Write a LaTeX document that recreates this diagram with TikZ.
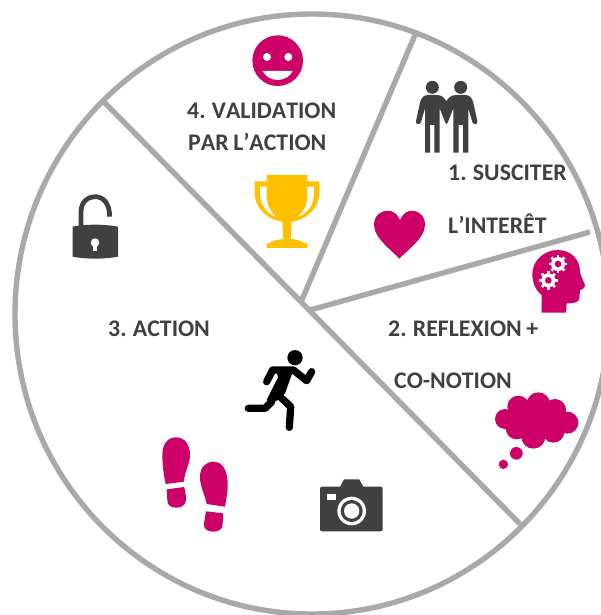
\documentclass[tikz,border=0pt]{standalone}
\usepackage{fontspec}
\setmainfont{Carlito}[Kerning=Off,WordSpace=0.85]
\definecolor{rim}{HTML}{A9A9A9}
\definecolor{ink}{HTML}{404040}
\definecolor{rose}{HTML}{CC0066}
\definecolor{gold}{HTML}{FFC000}
\tikzset{
  rimline/.style={draw=rim,line width=5.4pt},
  lbl/.style={anchor=base west,inner sep=0pt,text=ink,font=\fontsize{23.8}{28}\selectfont\bfseries},
  zoomA/.style={shift={(380,60)},x=0.33333pt,y=-0.33333pt},
  zoomB/.style={shift={(480,240)},x=0.33333pt,y=-0.33333pt},
  zoomC/.style={shift={(150,340)},x=0.33333pt,y=-0.33333pt},
  zoomD/.style={shift={(60,20)},x=0.33333pt,y=-0.33333pt},
}
\begin{document}
\begin{tikzpicture}[x=1pt,y=-1pt]
\useasboundingbox (0,0) rectangle (601,615);
\begin{scope}
\clip (0,0) rectangle (601,615);
\draw[rimline] (312,314) ellipse [x radius=297pt,y radius=300pt];
\end{scope}
% spokes
\coordinate (hubc) at (301,302);
\coordinate (hubd) at (310,310);
\coordinate (a) at (103,101);
\coordinate (b) at (520,524);
\coordinate (c) at (415,35);
\coordinate (d) at (590,232);
\draw[rimline] (a) -- (b);
\draw[rimline] (hubc) -- (c);
\draw[rimline] (hubd) -- (d);
% labels
\node[lbl] (t4a) at (187,118.5) {4. VALIDATION};
\node[lbl] (t4b) at (188,150.5) {PAR L’ACTION};
\node[lbl] (t1a) at (448,180.5) {1. SUSCITER};
\node[lbl] (t1b) at (448,233.5) {L’INTERÊT};
\node[lbl] (t2a) at (388,336.5) {2. REFLEXION +};
\node[lbl] (t2b) at (394,388.5) {CO-NOTION};
\node[lbl] (t3) at (108,336.5) {3. ACTION};
% people
\begin{scope}[zoomA]
\fill[ink] (157,82) circle [radius=19.5];
\fill[ink] (242,82) circle [radius=19.5];
\fill[ink] (108,183) -- (120,128) .. controls (124,112) and (132,105) .. (145,105) -- (170,105)
  .. controls (185,105) and (192,112) .. (199,124) .. controls (206,112) and (214,105) .. (230,105) -- (255,105)
  .. controls (268,105) and (276,112) .. (280,128) -- (292,183) .. controls (295,194) and (280,196) .. (277,186)
  -- (265,145) -- (265,278) -- (249,278) -- (249,195) -- (236,195) -- (236,278) -- (220,278) -- (220,145)
  -- (203,188) .. controls (201,193) and (198,193) .. (196,188) -- (179,145) -- (179,278) -- (163,278) -- (163,195)
  -- (150,195) -- (150,278) -- (135,278) -- (135,145) -- (123,186) .. controls (120,196) and (105,194) .. (108,183) -- cycle;
% heart
\fill[rose] (58,596) .. controls (40,575) and (-18,535) .. (-18,495) .. controls (-18,465) and (5,452) .. (22,452)
  .. controls (40,452) and (52,462) .. (60,480) .. controls (68,462) and (80,452) .. (97,452)
  .. controls (118,452) and (135,470) .. (135,495) .. controls (135,535) and (76,575) .. (58,596) -- cycle;
\end{scope}
% head with gears, cloud
\begin{scope}[zoomB]
\fill[rose] (185,218) -- (185,165) .. controls (165,150) and (157,125) .. (157,102)
  .. controls (157,60) and (195,30) .. (232,30) .. controls (275,30) and (300,60) .. (300,95)
  .. controls (301,110) and (315,128) .. (315,138) .. controls (315,146) and (305,148) .. (300,150)
  -- (298,175) .. controls (296,187) and (285,190) .. (260,190) -- (258,218) -- cycle;
\foreach \gx/\gy in {234/72,205/121}{
  \foreach \ang in {0,45,...,315}{
    \draw[white,line width=2.6pt] (\gx,\gy) -- ++(\ang:28);
  }
  \fill[white] (\gx,\gy) circle [radius=21];
  \fill[rose] (\gx,\gy) circle [radius=10];
}
\fill[rose] (75,537) circle [radius=30]
  (115,500) circle [radius=33]
  (175,492) circle [radius=35]
  (225,510) circle [radius=33]
  (262,548) circle [radius=33]
  (220,575) circle [radius=33]
  (160,590) circle [radius=36]
  (110,565) circle [radius=33]
  (109,640) circle [radius=19]
  (70,673) circle [radius=14];
\fill[rose] (175,540) ellipse [x radius=75,y radius=40];
\fill[rose] (95,510) -- (250,510) -- (240,590) -- (110,590) -- cycle;
\end{scope}
% runner, feet, camera
\begin{scope}[zoomC]
\fill[black] (435,53) circle [radius=23];
\draw[black,line width=7.3pt,line cap=round,line join=round]
  (350,125) -- (368,90) -- (430,90) -- (470,122) -- (485,95)
  (365,185) -- (345,205) -- (295,205)
  (385,165) -- (422,200) -- (418,262);
\fill[black] (372,85) -- (432,85) -- (405,160) -- (388,178) -- (362,190) -- (350,180) -- (385,110) -- cycle;
\fill[rose] (47,432) .. controls (40,400) and (37,370) .. (37,345) .. controls (37,310) and (55,292) .. (78,292)
  .. controls (105,292) and (120,315) .. (120,345) .. controls (120,370) and (104,395) .. (101,425) -- cycle;
\fill[rose] (50,448) -- (103,441) .. controls (105,460) and (109,465) .. (108,480) .. controls (106,497) and (92,503) .. (80,503)
  .. controls (60,503) and (52,495) .. (52,480) -- cycle;
\fill[rose] (170,492) .. controls (165,465) and (150,440) .. (150,410) .. controls (150,380) and (170,365) .. (190,365)
  .. controls (220,365) and (233,395) .. (233,435) .. controls (233,460) and (228,480) .. (225,500) -- cycle;
\fill[rose] (168,514) -- (219,520) -- (218,555) .. controls (217,568) and (205,575) .. (190,575)
  .. controls (170,575) and (160,565) .. (162,550) -- cycle;
\fill[ink,rounded corners=2pt] (510,440) rectangle (698,574);
\fill[ink] (568,445) -- (582,418) -- (628,418) -- (642,445) -- cycle;
\fill[white] (530,461) rectangle (558,479);
\fill[white] (605,513) circle [radius=43];
\fill[ink] (605,513) circle [radius=33];
\fill[white] (605,513) circle [radius=23];
\end{scope}
% lock, smiley, trophy
\begin{scope}[zoomD]
\draw[ink,line width=4.7pt] (63,625) -- (63,575) .. controls (63,545) and (85,530) .. (105,530)
  .. controls (130,530) and (149,550) .. (149,590);
\fill[ink] (38,620) .. controls (80,612) and (132,612) .. (174,620) -- (174,710) .. controls (132,718) and (80,718) .. (38,710) -- cycle;
\fill[white] (105,668) circle [radius=13];
\fill[white] (100,670) -- (110,670) -- (110,692) -- (100,692) -- cycle;
\fill[rose] (653,122) circle [radius=76];
\fill[white] (621,111) circle [radius=12] (685,111) circle [radius=12];
\fill[white] (608,153) -- (698,153) .. controls (690,170) and (672,180) .. (653,180) .. controls (634,180) and (616,170) .. (608,153) -- cycle;
% trophy
\fill[gold] (584,484) -- (620,484) -- (620,465) -- (742,465) -- (742,484) -- (778,484) -- (778,520)
  .. controls (776,575) and (725,603) .. (695,605) -- (692,657) -- (715,660) -- (742,672) -- (742,684) -- (620,684) -- (620,672)
  -- (647,660) -- (670,657) -- (667,605) .. controls (637,603) and (586,575) .. (584,520) -- cycle;
\fill[white] (600,500) -- (620,500) -- (620,535) .. controls (622,560) and (632,575) .. (648,590) .. controls (620,580) and (600,555) .. (600,520) -- cycle;
\fill[white] (762,500) -- (742,500) -- (742,535) .. controls (740,560) and (730,575) .. (714,590) .. controls (742,580) and (762,555) .. (762,520) -- cycle;
\end{scope}
\end{tikzpicture}
\end{document}
